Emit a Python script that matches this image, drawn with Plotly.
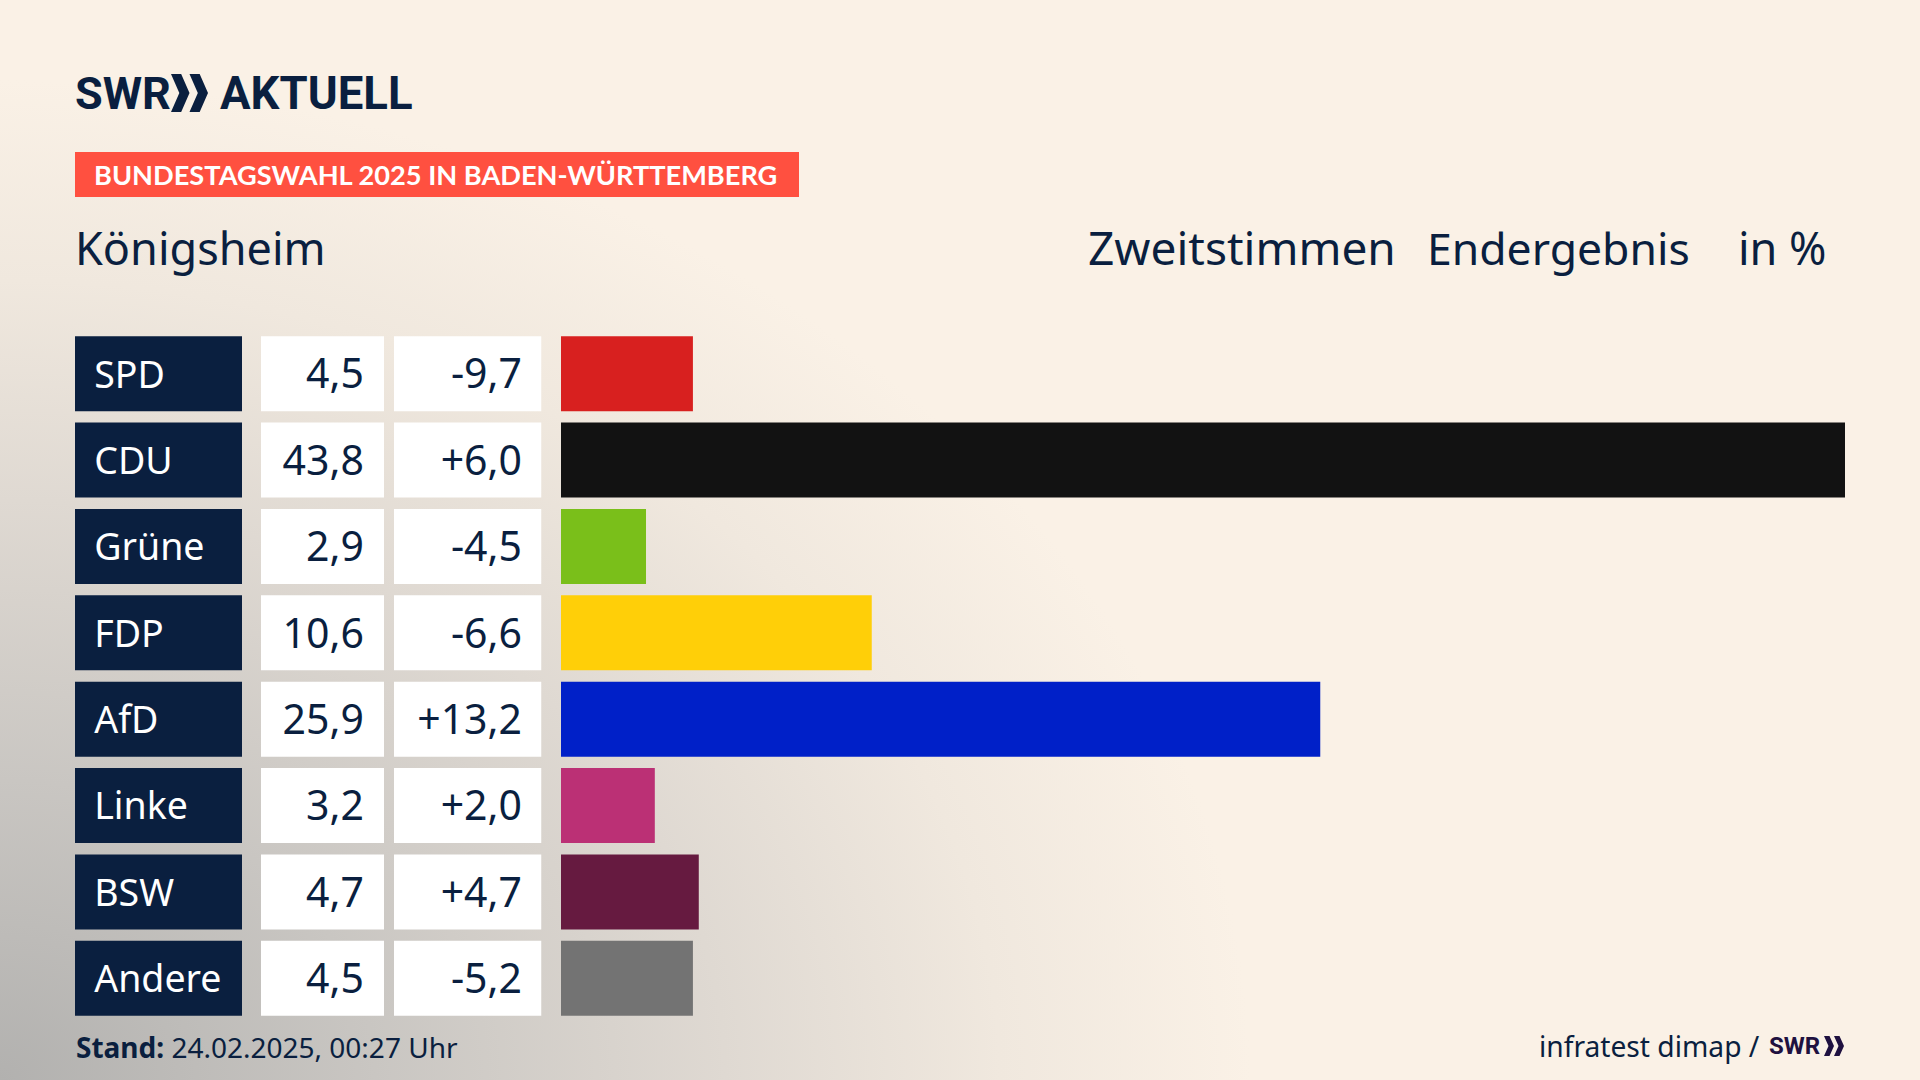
import plotly.graph_objects as go

parties = ["SPD", "CDU", "Grüne", "FDP", "AfD", "Linke", "BSW", "Andere"]
results = [4.5, 43.8, 2.9, 10.6, 25.9, 3.2, 4.7, 4.5]
changes = [-9.7, 6.0, -4.5, -6.6, 13.2, 2.0, 4.7, -5.2]
party_colors = ["#d8201f", "#121212", "#7abf1a", "#ffcf08", "#0020c8", "#bb3075", "#661a40", "#737373"]

NAVY = "#0a1f3f"
W, H = 1920, 1080
FONT = "Noto Sans"

result_labels = [f"{v:.1f}".replace(".", ",") for v in results]
change_labels = [f"{v:+.1f}".replace(".", ",") for v in changes]


def px(x):
    return x / W


def py(y):
    return 1 - y / H


fig = go.Figure()


# the three table columns are just bars that fill their own little x axis
def add_column(axis, color, labels, text_x, anchor, text_color, size):
    fig.add_trace(go.Bar(
        y=parties, x=[1] * len(parties), orientation="h",
        marker=dict(color=color, line_width=0), width=0.868,
        xaxis=axis, yaxis="y", hoverinfo="skip"))
    # text sits on y2, same as y but a few px lower
    fig.add_trace(go.Scatter(
        y=parties, x=[text_x] * len(parties), mode="text", text=labels,
        textposition="middle " + anchor,
        textfont=dict(family=FONT, size=size, color=text_color),
        xaxis=axis, yaxis="y2", hoverinfo="skip"))


add_column("x", NAVY, parties, 0.115, "right", "white", 37.5)
add_column("x2", "white", result_labels, 0.837, "left", NAVY, 41)
add_column("x3", "white", change_labels, 0.868, "left", NAVY, 41)

# result bars
fig.add_trace(go.Bar(
    y=parties, x=results, orientation="h",
    marker=dict(color=party_colors, line_width=0), width=0.868,
    xaxis="x4", yaxis="y"))

hidden = dict(visible=False, fixedrange=True)
fig.update_layout(
    width=W, height=H,
    margin=dict(l=0, r=0, t=0, b=0),
    paper_bgcolor="rgba(0,0,0,0)",
    plot_bgcolor="rgba(0,0,0,0)",
    showlegend=False,
    barmode="overlay",
    xaxis=dict(domain=[px(75), px(242)], range=[0, 1], **hidden),
    xaxis2=dict(domain=[px(261), px(384)], range=[0, 1], **hidden),
    xaxis3=dict(domain=[px(394), px(541.5)], range=[0, 1], **hidden),
    xaxis4=dict(domain=[px(561), px(1845)], range=[0, 43.8], **hidden),
    yaxis=dict(domain=[py(1021.5), py(330.5)], range=[7.5, -0.5], type="category", **hidden),
    yaxis2=dict(domain=[py(1026), py(335)], range=[7.5, -0.5], type="category", **hidden),
)


def label(x, y, text, size, anchor="left", color=NAVY, family=FONT):
    fig.add_annotation(
        xref="paper", yref="paper", x=px(x), y=py(y), text=text, showarrow=False,
        xanchor=anchor, yanchor="middle", borderpad=0,
        font=dict(family=family, size=size, color=color))


# logo, chevrons are paths because no font has them
label(74, 93, "<b>SWR</b>", 45, family="Roboto")
label(219, 93, "<b>AKTUELL</b>", 45.5, family="Roboto")


def chevrons(x0, y0, x1, y1, color):
    w = (x1 - x0) / 2
    mid = (y0 + y1) / 2
    for i in range(2):
        a = x0 + i * w
        arm = w * 0.55
        path = (f"M {px(a)} {py(y0)} L {px(a + arm)} {py(y0)} L {px(a + w)} {py(mid)} "
                f"L {px(a + arm)} {py(y1)} L {px(a)} {py(y1)} L {px(a + w - arm)} {py(mid)} Z")
        fig.add_shape(type="path", xref="paper", yref="paper", path=path,
                      fillcolor=color, line_width=0)


chevrons(171, 74, 208, 112, NAVY)
chevrons(1824, 1036, 1844, 1056, "#1f1140")

# red banner
fig.add_shape(type="rect", xref="paper", yref="paper", x0=px(75), x1=px(799), y0=py(152), y1=py(197),
              fillcolor="#ff5040", line_width=0)
label(93, 175, "<b>BUNDESTAGSWAHL 2025 IN BADEN-WÜRTTEMBERG</b>", 27.2, color="white", family="Lato")

label(74, 247, "Königsheim", 45)
label(1087, 247, "Zweitstimmen", 46)
label(1426, 247, "Endergebnis", 44.5)
label(1737, 247, "in %", 45)

label(75, 1047, "<b>Stand:</b> 24.02.2025, 00:27 Uhr", 28)
label(1538, 1046, "infratest dimap /", 28.2)
label(1768, 1046, "<b>SWR</b>", 24, color="#1f1140", family="Roboto")

# page background has the grey corner, plotly has no gradient for the paper
background = """
document.body.style.margin = '0';
document.body.style.overflow = 'hidden';
document.body.style.background =
  'radial-gradient(ellipse 1250px 1000px at 0% 100%, #b2b1af 0%, #c9c6c2 30%, #dfd9d2 58%, #f0e8de 80%, #faf1e6 100%), #faf1e6';
"""

fig.write_html("out.html", post_script=background, config=dict(displayModeBar=False))
